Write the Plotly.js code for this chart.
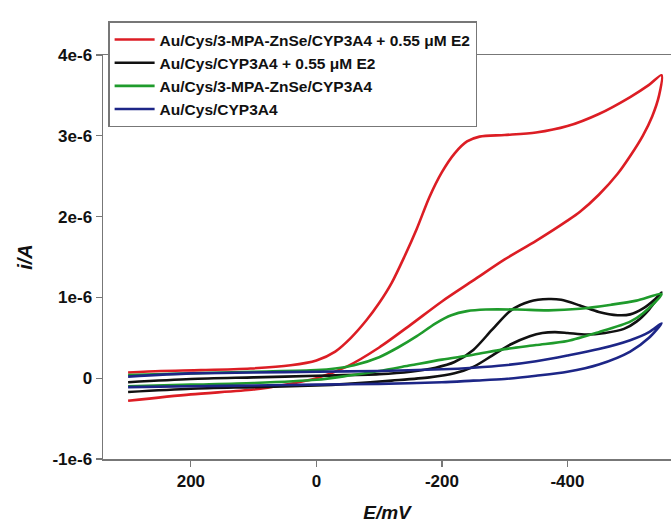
<!DOCTYPE html>
<html>
<head>
<meta charset="utf-8">
<script src="https://cdn.plot.ly/plotly-3.0.1.min.js"></script>
<style>html,body{margin:0;padding:0;background:#fff;}#chart{width:671px;height:524px;}</style>
</head>
<body>
<div id="chart"></div>
<script>
// Potential (mV) and current (µA, shown as A on the axis), forward scan then reverse scan
var redE = [300, 248, 184, 105, 41, 0, -30, -55, -80, -100, -120, -140, -160, -180, -200, -220, -240, -260, -300, -350, -400, -450, -500, -530, -550,
            -546, -535, -520, -500, -480, -450, -420, -400, -350, -300, -250, -200, -150, -100, -50, 0, 50, 100, 200, 300];
var redI = [0.07, 0.09, 0.10, 0.12, 0.16, 0.22, 0.33, 0.50, 0.72, 0.93, 1.18, 1.50, 1.85, 2.24, 2.55, 2.78, 2.93, 2.99, 3.01, 3.04, 3.12, 3.27, 3.48, 3.63, 3.75,
            3.50, 3.24, 3.00, 2.75, 2.53, 2.27, 2.06, 1.95, 1.70, 1.47, 1.21, 0.95, 0.66, 0.38, 0.15, 0.00, -0.08, -0.14, -0.20, -0.28];

var blackE = [300, 200, 100, 0, -100, -150, -190, -220, -250, -280, -310, -340, -370, -390, -420, -450, -480, -500, -520, -540, -550,
              -530, -510, -490, -460, -430, -400, -380, -360, -340, -310, -280, -250, -220, -180, -120, -50, 0, 100, 200, 300];
var blackI = [-0.05, -0.01, 0.01, 0.03, 0.05, 0.08, 0.13, 0.20, 0.35, 0.60, 0.84, 0.95, 0.98, 0.97, 0.90, 0.82, 0.78, 0.79, 0.86, 0.98, 1.06,
              0.85, 0.70, 0.61, 0.56, 0.54, 0.56, 0.57, 0.56, 0.52, 0.42, 0.28, 0.14, 0.06, 0.01, -0.03, -0.07, -0.09, -0.11, -0.13, -0.17];

var greenE = [300, 200, 100, 0, -30, -60, -100, -130, -160, -190, -215, -240, -270, -320, -370, -420, -470, -510, -550,
              -520, -500, -450, -400, -350, -300, -250, -200, -150, -100, -50, 0, 100, 200, 300];
var greenI = [0.04, 0.06, 0.08, 0.10, 0.12, 0.16, 0.26, 0.38, 0.52, 0.68, 0.78, 0.83, 0.85, 0.85, 0.84, 0.86, 0.91, 0.96, 1.04,
              0.80, 0.70, 0.57, 0.46, 0.41, 0.36, 0.29, 0.23, 0.16, 0.09, 0.03, -0.02, -0.06, -0.08, -0.10];

var blueE = [300, 200, 100, 0, -100, -200, -250, -300, -350, -400, -450, -500, -530, -550,
             -530, -500, -450, -400, -350, -300, -250, -200, -100, 0, 100, 200, 300];
var blueI = [0.02, 0.06, 0.07, 0.08, 0.09, 0.11, 0.13, 0.16, 0.21, 0.28, 0.36, 0.47, 0.57, 0.68,
             0.50, 0.33, 0.17, 0.08, 0.03, -0.01, -0.03, -0.05, -0.07, -0.08, -0.09, -0.10, -0.11];

var seriesNames = ['Au/Cys/3-MPA-ZnSe/CYP3A4 + 0.55 \u03bcM E2', 'Au/Cys/CYP3A4 + 0.55 \u03bcM E2', 'Au/Cys/3-MPA-ZnSe/CYP3A4', 'Au/Cys/CYP3A4'];
var seriesColors = ['#dc1d24', '#111111', '#1f9b2c', '#1d2687'];

var xTickVals = [200, 0, -200, -400];
var xTickText = ['200', '0', '-200', '-400'];
var yTickVals = [-1, 0, 1, 2, 3, 4];
var yTickText = ['-1e-6', '0', '1e-6', '2e-6', '3e-6', '4e-6'];

var xs = [redE, blackE, greenE, blueE];
var ys = [redI, blackI, greenI, blueI];
var traces = [];
for (var k = 0; k < 4; k++) {
  traces.push({
    x: xs[k], y: ys[k], name: seriesNames[k], type: 'scatter', mode: 'lines',
    line: {color: seriesColors[k], width: 2.6, shape: 'spline', smoothing: 0.8}
  });
}

var tickFont = {family: 'Liberation Sans, Arial, sans-serif', size: 17, color: '#111', weight: 'bold'};
var layout = {
  width: 671, height: 524,
  margin: {l: 103, r: 0, t: 55, b: 65},
  paper_bgcolor: '#fff', plot_bgcolor: '#fff',
  showlegend: true,
  legend: {
    x: 0.009, y: 1.083, xanchor: 'left', yanchor: 'top',
    bgcolor: '#fff', bordercolor: '#777', borderwidth: 1.5,
    font: {family: 'Liberation Sans, Arial, sans-serif', size: 15.5, color: '#111', weight: 'bold'},
    itemwidth: 40, tracegroupgap: 0
  },
  xaxis: {
    range: [340, -565], showgrid: false, zeroline: false,
    showline: true, linecolor: '#777', linewidth: 1.5, mirror: true,
    ticks: 'outside', ticklen: 6, tickcolor: '#777', tickwidth: 1.2,
    tickvals: xTickVals, ticktext: xTickText, tickfont: tickFont,
    title: {text: '<i>E/mV</i>', font: {family: 'Liberation Sans, Arial, sans-serif', size: 19, color: '#111', weight: 'bold'}, standoff: 16}
  },
  yaxis: {
    range: [-1, 4], showgrid: false, zeroline: false,
    showline: true, linecolor: '#777', linewidth: 1.5,
    ticks: 'outside', ticklen: 6, tickcolor: '#777', tickwidth: 1.2,
    tickvals: yTickVals, ticktext: yTickText, tickfont: tickFont,
    title: {text: '<i>i/A</i>', font: {family: 'Liberation Sans, Arial, sans-serif', size: 20, color: '#111', weight: 'bold'}, standoff: 14}
  }
};

Plotly.newPlot('chart', traces, layout, {displayModeBar: false, staticPlot: true});
</script>
</body>
</html>
